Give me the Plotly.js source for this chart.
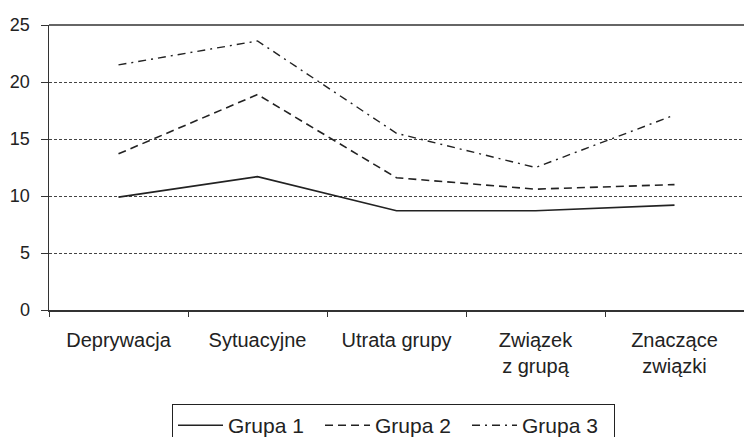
<!DOCTYPE html>
<html>
<head>
<meta charset="utf-8">
<script src="https://cdn.plot.ly/plotly-3.0.1.min.js"></script>
<style>html,body{margin:0;padding:0;background:#fff;overflow:hidden;}#chart{width:744px;height:437px;}</style>
</head>
<body>
<div id="chart"></div>
<script>
var categories = ["Deprywacja", "Sytuacyjne", "Utrata grupy", "Związek<br>z grupą", "Znaczące<br>związki"];
var grupa1 = [9.9, 11.7, 8.7, 8.7, 9.2];
var grupa2 = [13.7, 18.9, 11.6, 10.6, 11.0];
var grupa3 = [21.5, 23.6, 15.5, 12.5, 17.1];
var seriesNames = ["Grupa 1", "Grupa 2", "Grupa 3"];
var yTicks = [0, 5, 10, 15, 20, 25];

var lineColor = "#222";
var traces = [
  {x: categories, y: grupa1, name: seriesNames[0], type: "scatter", mode: "lines",
   line: {color: lineColor, width: 1.6, dash: "solid"}},
  {x: categories, y: grupa2, name: seriesNames[1], type: "scatter", mode: "lines",
   line: {color: lineColor, width: 1.6, dash: "8px,5px"}},
  {x: categories, y: grupa3, name: seriesNames[2], type: "scatter", mode: "lines",
   line: {color: lineColor, width: 1.4, dash: "8px,5px,2px,5px"}}
];

var fam = "Liberation Sans, Arial, sans-serif";
var layout = {
  width: 744, height: 437,
  margin: {l: 49, r: 0, t: 25, b: 127, autoexpand: false},
  paper_bgcolor: "#fff", plot_bgcolor: "#fff",
  font: {family: fam, size: 18, color: "#222"},
  showlegend: true,
  xaxis: {
    type: "category",
    range: [-0.5, 4.5],
    automargin: false,
    showline: true, linecolor: "#333", linewidth: 1.5,
    ticks: "outside", ticklen: 5, tickcolor: "#333", tickwidth: 1,
    tickson: "boundaries",
    showgrid: false, zeroline: false,
    tickfont: {family: fam, size: 20, color: "#222"},
    ticklabelstandoff: 11,
    fixedrange: true
  },
  yaxis: {
    range: [0, 25],
    automargin: false,
    tickvals: yTicks,
    ticktext: yTicks.map(String),
    showline: true, linecolor: "#333", linewidth: 1.5,
    ticks: "outside", ticklen: 7, tickcolor: "#333", tickwidth: 1,
    showgrid: true, gridcolor: "#444", gridwidth: 1, griddash: "3px,2px",
    zeroline: false,
    tickfont: {family: fam, size: 18, color: "#222"},
    ticklabelstandoff: 7,
    fixedrange: true
  },
  shapes: [
    {type: "line", xref: "paper", yref: "paper", x0: 0, x1: 1, y0: 1, y1: 1,
     line: {color: "#333", width: 1.5}}
  ],
  legend: {
    orientation: "h",
    x: 0.177, xanchor: "left",
    y: -0.33, yanchor: "top",
    bordercolor: "#222", borderwidth: 1,
    bgcolor: "#fff",
    font: {family: fam, size: 21, color: "#222"},
    itemwidth: 45,
    entrywidth: 87, entrywidthmode: "pixels",
    traceorder: "normal"
  }
};

Plotly.newPlot("chart", traces, layout, {staticPlot: true, displayModeBar: false});
</script>
</body>
</html>
